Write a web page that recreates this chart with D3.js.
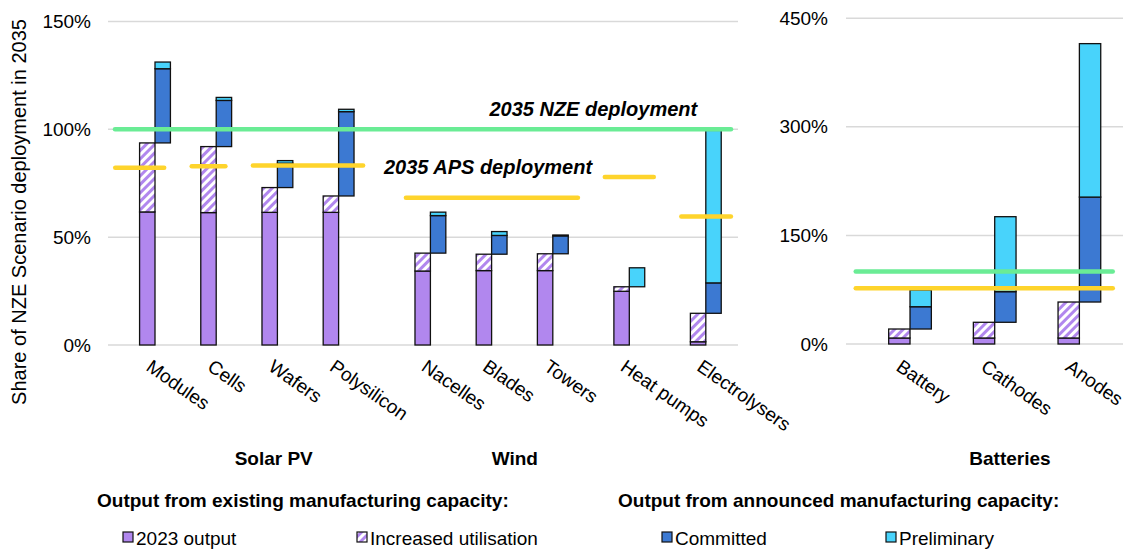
<!DOCTYPE html>
<html>
<head>
<meta charset="utf-8">
<script src="https://cdn.jsdelivr.net/npm/d3@7"></script>
<style>
  html, body { margin: 0; padding: 0; background: #fff; }
  svg { display: block; font-family: "Liberation Sans", Arial, sans-serif; }
</style>
</head>
<body>
<svg id="chart" width="1127" height="552"></svg>
<script>
// ---- data (shares of NZE Scenario deployment in 2035, %) ----
const categoriesLeft = ["Modules", "Cells", "Wafers", "Polysilicon", "Nacelles", "Blades", "Towers", "Heat pumps", "Electrolysers"];
const output2023Left = [61.7, 61.4, 61.5, 61.5, 34.3, 34.5, 34.5, 24.9, 1.5];
const increasedLeft = [32.0, 30.6, 11.5, 7.6, 8.3, 7.6, 7.8, 2.1, 13.2];
const committedLeft = [34.4, 21.4, 11.3, 39.1, 17.4, 8.7, 8.3, 0, 14.1];
const preliminaryLeft = [3.1, 1.4, 1.2, 1.1, 1.6, 1.8, 0.4, 8.8, 70.7];

const categoriesRight = ["Battery", "Cathodes", "Anodes"];
const output2023Right = [8.3, 8.3, 8.3];
const increasedRight = [12.4, 21.7, 49.7];
const committedRight = [30.8, 42.3, 145];
const preliminaryRight = [23.1, 103.6, 212];

const nzeLevel = 100;
// APS deployment segments: first category, last category, level
const apsLeft = [
    ["Modules", "Modules", 82.2],
    ["Cells", "Cells", 82.9],
    ["Wafers", "Polysilicon", 83.2],
    ["Nacelles", "Towers", 68.3],
    ["Heat pumps", "Heat pumps", 77.9],
    ["Electrolysers", "Electrolysers", 59.6]
];
const apsRight = 77;

const ticksLeft = [0, 50, 100, 150];
const ticksRight = [0, 150, 300, 450];

const groupNames = ["Solar PV", "Wind", "Batteries"];
const legendHeaders = ["Output from existing manufacturing capacity:", "Output from announced manufacturing capacity:"];
const seriesNames = ["2023 output", "Increased utilisation", "Committed", "Preliminary"];

// ---- layout ----
const COLORS = {
    purple: "#b187ee",
    committed: "#3c79d2",
    preliminary: "#48d3fb",
    nze: "#6aec95",
    aps: "#fed42c",
    grid: "#d9d9d9",
    text: "#000"
};
const slotsLeft = [0, 1, 2, 3, 4.5, 5.5, 6.5, 7.75, 9];
const slotsRight = [0, 1, 2];
// APS segment extents in slot units, relative to first/last category
const apsOffsetsLeft = [[-0.65, 0.15], [-0.4, 0.15], [-0.4, 0.4], [-0.4, 0.41], [-0.4, 0.4], [-0.4, 0.41]];

const svg = d3.select("#chart");
svg.append("rect").attr("width", 1127).attr("height", 552).attr("fill", "#fff");

const defs = svg.append("defs");
const pat = defs.append("pattern")
    .attr("id", "hatch")
    .attr("patternUnits", "userSpaceOnUse")
    .attr("width", 6)
    .attr("height", 6)
    .attr("patternTransform", "rotate(45)");
pat.append("rect").attr("width", 6).attr("height", 6).attr("fill", "#fff");
pat.append("rect").attr("width", 3).attr("height", 6).attr("fill", COLORS.purple);

function drawPanel(opt) {
    const x = d3.scaleLinear().domain(opt.slotDomain).range(opt.xRange);
    const y = d3.scaleLinear().domain([0, opt.yMax]).range(opt.yRange);
    const step = x(1) - x(0);
    const bw = step * 0.252;
    const g = svg.append("g");

    // gridlines
    g.append("g").selectAll("line")
        .data(opt.ticks)
        .join("line")
        .attr("x1", opt.xRange[0]).attr("x2", opt.xRange[1])
        .attr("y1", d => y(d)).attr("y2", d => y(d))
        .attr("stroke", COLORS.grid).attr("stroke-width", 1.5);

    // y axis labels
    const ax = g.append("g")
        .attr("transform", `translate(${opt.tickX},0)`)
        .call(d3.axisLeft(y).tickValues(opt.ticks).tickSize(0).tickPadding(0).tickFormat(d => d + "%"));
    ax.select(".domain").remove();
    ax.selectAll("text")
        .attr("font-size", 19)
        .attr("font-family", "Liberation Sans, Arial, sans-serif")
        .attr("fill", COLORS.text);

    const rows = opt.categories.map((c, i) => {
        const a = opt.out[i], b = a + opt.inc[i], c2 = b + opt.com[i], d = c2 + opt.pre[i];
        return { name: c, cx: x(opt.slots[i]), segs: [
            { side: -1, y0: 0, y1: a, fill: COLORS.purple },
            { side: -1, y0: a, y1: b, fill: "url(#hatch)" },
            { side: 0, y0: b, y1: c2, fill: COLORS.committed },
            { side: 0, y0: c2, y1: d, fill: COLORS.preliminary }
        ].filter(s => s.y1 - s.y0 > 0.05) };
    });

    const bars = g.append("g").selectAll("g").data(rows).join("g");
    bars.selectAll("rect")
        .data(d => d.segs.map(s => ({ ...s, cx: d.cx })))
        .join("rect")
        .attr("x", d => d.cx + d.side * bw)
        .attr("width", bw)
        .attr("y", d => y(d.y1))
        .attr("height", d => y(d.y0) - y(d.y1))
        .attr("fill", d => d.fill)
        .attr("stroke", "#111")
        .attr("stroke-width", 1.3);

    // NZE line
    g.append("line")
        .attr("x1", x(opt.lineExtent[0])).attr("x2", x(opt.lineExtent[1]))
        .attr("y1", y(nzeLevel)).attr("y2", y(nzeLevel))
        .attr("stroke", COLORS.nze).attr("stroke-width", 4.5).attr("stroke-linecap", "round");

    // APS lines
    g.append("g").selectAll("line")
        .data(opt.aps)
        .join("line")
        .attr("x1", d => x(d.s0)).attr("x2", d => x(d.s1))
        .attr("y1", d => y(d.v)).attr("y2", d => y(d.v))
        .attr("stroke", COLORS.aps).attr("stroke-width", 4.5).attr("stroke-linecap", "round");

    // category labels
    g.append("g").selectAll("text")
        .data(rows)
        .join("text")
        .attr("transform", d => `translate(${d.cx - opt.labelShift},358) rotate(35)`)
        .attr("dy", "0.74em")
        .attr("font-size", 19)
        .attr("fill", COLORS.text)
        .text(d => d.name);

    return { x, y };
}

const left = drawPanel({
    categories: categoriesLeft, slots: slotsLeft,
    out: output2023Left, inc: increasedLeft, com: committedLeft, pre: preliminaryLeft,
    slotDomain: [-0.768, 9.526], xRange: [108, 738],
    yMax: 150, yRange: [345, 21.5], ticks: ticksLeft, tickX: 91,
    lineExtent: [-0.654, 9.412], labelShift: 2,
    aps: apsLeft.map((d, i) => ({
        s0: slotsLeft[categoriesLeft.indexOf(d[0])] + apsOffsetsLeft[i][0],
        s1: slotsLeft[categoriesLeft.indexOf(d[1])] + apsOffsetsLeft[i][1],
        v: d[2]
    }))
});

const right = drawPanel({
    categories: categoriesRight, slots: slotsRight,
    out: output2023Right, inc: increasedRight, com: committedRight, pre: preliminaryRight,
    slotDomain: [-0.756, 2.515], xRange: [846, 1123],
    yMax: 450, yRange: [344, 18.3], ticks: ticksRight, tickX: 828,
    lineExtent: [-0.641, 2.394], labelShift: 7,
    aps: [{ s0: -0.641, s1: 2.394, v: apsRight }]
});

// y axis title
svg.append("text")
    .attr("transform", "translate(26,212) rotate(-90)")
    .attr("text-anchor", "middle")
    .attr("font-size", 20)
    .attr("fill", COLORS.text)
    .text("Share of NZE Scenario deployment in 2035");

// annotations
svg.append("text")
    .attr("x", left.x(8.86)).attr("y", left.y(106.2))
    .attr("text-anchor", "end")
    .attr("font-size", 20).attr("font-weight", "bold").attr("font-style", "italic")
    .text("2035 NZE deployment");
svg.append("text")
    .attr("x", left.x(3.74)).attr("y", left.y(79.2))
    .attr("font-size", 20).attr("font-weight", "bold").attr("font-style", "italic")
    .text("2035 APS deployment");

// group labels
const groupPos = [left.x(1.94), left.x(5.88), right.x(1.18)];
svg.append("g").selectAll("text")
    .data(groupNames)
    .join("text")
    .attr("x", (d, i) => groupPos[i])
    .attr("y", 465)
    .attr("text-anchor", "middle")
    .attr("font-size", 19).attr("font-weight", "bold")
    .text(d => d);

// legend
const lg = svg.append("g");
lg.selectAll("text.hdr")
    .data(legendHeaders)
    .join("text")
    .attr("class", "hdr")
    .attr("x", (d, i) => [97, 618][i])
    .attr("y", 507)
    .attr("font-size", 19).attr("font-weight", "bold")
    .text(d => d);

const legendFill = [COLORS.purple, "url(#hatch)", COLORS.committed, COLORS.preliminary];
const legendX = [123, 357, 662, 886];
const items = lg.selectAll("g.item")
    .data(seriesNames)
    .join("g")
    .attr("class", "item")
    .attr("transform", (d, i) => `translate(${legendX[i]},0)`);
items.append("rect")
    .attr("x", 0).attr("y", 532)
    .attr("width", 10).attr("height", 10)
    .attr("fill", (d, i) => legendFill[i])
    .attr("stroke", "#111").attr("stroke-width", 1.2);
items.append("text")
    .attr("x", 13).attr("y", 545)
    .attr("font-size", 19)
    .text(d => d);
</script>
</body>
</html>
